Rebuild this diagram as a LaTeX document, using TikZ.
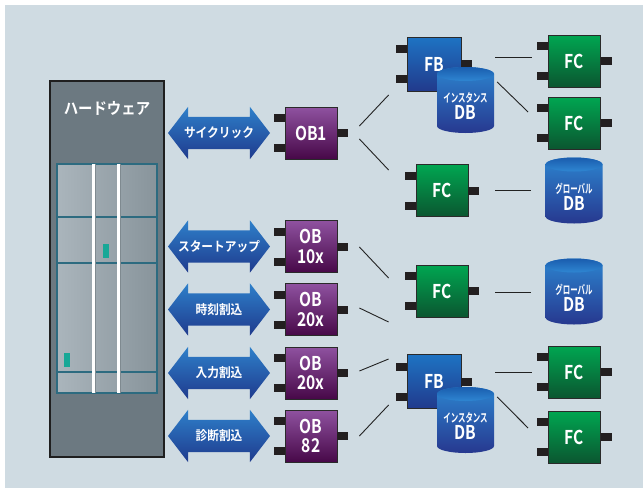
\documentclass[tikz,border=0pt]{standalone}
\usepackage{fontspec}
\usetikzlibrary{shapes.arrows,calc}

\newfontfamily\labelfont{Noto Sans CJK JP Bold}[FakeStretch=0.9]
\newfontfamily\blockfont{Noto Sans CJK JP Bold}[FakeStretch=0.82]
\newfontfamily\tinyfont{Noto Sans CJK JP Bold}[FakeStretch=0.62]

\definecolor{cBg}{HTML}{CFDBE2}
\definecolor{cHwFill}{HTML}{6C7981}
\definecolor{cHwLine}{HTML}{1F1F1F}
\definecolor{cPanelL}{HTML}{AAB5BC}
\definecolor{cPanelR}{HTML}{88949B}
\definecolor{cPanelLine}{HTML}{2D6B80}
\definecolor{cRail}{HTML}{7F8A90}
\definecolor{cLed}{HTML}{18A897}
\definecolor{cArrTop}{HTML}{2E80CA}
\definecolor{cArrBot}{HTML}{1F3A8D}
\definecolor{cObTop}{HTML}{8F52A0}
\definecolor{cObBot}{HTML}{470848}
\definecolor{cFbTop}{HTML}{1E73C3}
\definecolor{cFbBot}{HTML}{213A8C}
\definecolor{cFcTop}{HTML}{00A651}
\definecolor{cFcBot}{HTML}{0B5630}
\definecolor{cDbTop}{HTML}{2C84CF}
\definecolor{cDbBot}{HTML}{27388F}
\definecolor{cCapTop}{HTML}{1A5DAE}
\definecolor{cCapBot}{HTML}{2F86D2}
\definecolor{cPin}{HTML}{231F20}
\definecolor{cEdge}{HTML}{2A2A2A}
\definecolor{cLink}{HTML}{222222}

\tikzset{
  hwbox/.style={draw=cHwLine, line width=2.5pt, fill=cHwFill, minimum width=114pt, minimum height=376pt, inner sep=0pt},
  hwtitle/.style={text=white, inner sep=0pt, font=\labelfont\fontsize{16}{16}\selectfont},
  panel/.style={draw=cPanelLine, line width=1.4pt},
  event/.style={double arrow, double arrow head extend=10pt, double arrow tip angle=105, minimum height=102pt, text height=16pt, text depth=16pt, inner sep=0pt, top color=cArrTop, bottom color=cArrBot, label={[eventtext]center:#1}},
  eventtext/.style={text=white, font=\labelfont\fontsize{13}{13}\selectfont},
  block/.style={draw=cEdge, line width=0.8pt, minimum width=52pt, minimum height=52pt, inner sep=0pt, text=white, align=center, font=\blockfont\fontsize{19}{19.5}\selectfont},
  ob/.style={block, top color=cObTop, bottom color=cObBot},
  fb/.style={block, minimum width=54pt, minimum height=54pt, top color=cFbTop, bottom color=cFbBot},
  fc/.style={block, top color=cFcTop, bottom color=cFcBot},
  db/.style={minimum width=57pt, minimum height=66pt, inner sep=0pt, label={[dbtext]center:#1}},
  dbtext/.style={text=white, align=center, yshift=-6pt, font=\blockfont\fontsize{19}{17}\selectfont},
  pinbox/.style={fill=cPin},
  link/.style={draw=cLink, line width=0.9pt},
}

\newcommand\blockpins[1]{%
  \fill[pinbox] ([shift={(-11,-19)}]#1.west) rectangle ([shift={(0,-11)}]#1.west);
  \fill[pinbox] ([shift={(-11,11)}]#1.west) rectangle ([shift={(0,19)}]#1.west);
  \fill[pinbox] ([shift={(0,-4)}]#1.east) rectangle ([shift={(11,4)}]#1.east);}
\newcommand\dbbody[2]{%
  \begin{scope}[shift={(#1,#2)}]
    \shade[top color=cDbTop, bottom color=cDbBot] (-28.5,-26) -- (-28.5,26)
      arc[start angle=180, end angle=0, x radius=28.5, y radius=7] -- (28.5,-26)
      arc[start angle=0, end angle=-180, x radius=28.5, y radius=7] -- cycle;
    \shade[top color=cCapTop, bottom color=cCapBot] (0,-26) ellipse[x radius=28.5, y radius=7];
  \end{scope}}
\newcommand\smalltext[1]{{\tinyfont\fontsize{12}{12}\selectfont #1}}

\begin{document}
\begin{tikzpicture}[x=1pt,y=-1pt]
\useasboundingbox (0,0) rectangle (643,490);
\fill[white] (0,0) rectangle (643,490);
\fill[cBg] (5,5) rectangle (643,488);

\node[hwbox] (hw) at (107,269) {};
\node[hwtitle] (hwt) at (107,108) {ハードウェア};
\shade[left color=cPanelL, right color=cPanelR] (57,164) rectangle (157,393);
\draw[panel] (57,164) rectangle (157,393);
\foreach \y in {217,263,372} \draw[panel] (57,\y) -- (157,\y);
\foreach \x in {92,117} {
  \fill[white] (\x,164) rectangle ++(2.6,229);
  \fill[cRail] (\x+2.6,164) rectangle ++(1.2,229);
}
\fill[cLed] (103,244) rectangle (109,258);
\fill[cLed] (64,353) rectangle (70,367);

\node[event=サイクリック] (cyclic) at (219,133) {};
\node[event=スタートアップ] (startup) at (219,246.5) {};
\node[event=時刻割込] (tod) at (219,309.5) {};
\node[event=入力割込] (hwint) at (219,373) {};
\node[event=診断割込] (diag) at (219,436) {};

\node[ob] (ob1) at (311,133) {OB1};
\node[ob] (obst) at (311,246.5) {OB\\10x};
\node[ob] (obtod) at (311,309.5) {OB\\20x};
\node[ob] (obint) at (311,373) {OB\\20x};
\node[ob] (obdiag) at (311,436) {OB\\82};
\foreach \n in {ob1,obst,obtod,obint,obdiag} \blockpins{\n};

\node[fb] (fb1) at (434,64) {FB};
\blockpins{fb1}
\dbbody{465.5}{100}
\node[db={\smalltext{インスタンス}\\DB}] (idb1) at (465.5,100) {};
\node[fb] (fb2) at (434,381.5) {FB};
\blockpins{fb2}
\dbbody{465.5}{420}
\node[db={\smalltext{インスタンス}\\DB}] (idb2) at (465.5,420) {};

\node[fc] (fc1) at (574.5,61) {FC};
\node[fc] (fc2) at (574.5,123) {FC};
\node[fc] (fc3) at (442,190.5) {FC};
\node[fc] (fc4) at (442,291) {FC};
\node[fc] (fc5) at (574.5,372) {FC};
\node[fc] (fc6) at (574.5,437) {FC};
\foreach \n in {fc1,fc2,fc3,fc4,fc5,fc6} \blockpins{\n};

\dbbody{574}{190.5}
\node[db={\smalltext{グローバル}\\DB}] (gdb1) at (574,190.5) {};
\dbbody{574}{291.5}
\node[db={\smalltext{グローバル}\\DB}] (gdb2) at (574,291.5) {};

\draw[link] ([shift={(22,-7)}]ob1.east) -- ([shift={(-18,31)}]fb1.west);
\draw[link] ([shift={(22,6)}]ob1.east) -- ([shift={(-27,-20.5)}]fc3.west);
\draw[link] ([shift={(34,-7)}]fb1.east) -- ([shift={(-16,-4)}]fc1.west);
\draw[link] ([shift={(3,-18)}]idb1.east) -- ([shift={(-20,-11)}]fc2.west);
\draw[link] ([shift={(27,0)}]fc3.east) -- ([shift={(-14,0)}]gdb1.west);
\draw[link] ([shift={(22,0.5)}]obst.east) -- ([shift={(-27,-13)}]fc4.west);
\draw[link] ([shift={(22,-1.5)}]obtod.east) -- ([shift={(-27,31)}]fc4.west);
\draw[link] ([shift={(27,1)}]fc4.east) -- ([shift={(-14,0.5)}]gdb2.west);
\draw[link] ([shift={(22,-2)}]obint.east) -- ([shift={(-18,-22.5)}]fb2.west);
\draw[link] ([shift={(22,0)}]obdiag.east) -- ([shift={(-18,23.5)}]fb2.west);
\draw[link] ([shift={(34,-9.5)}]fb2.east) -- ([shift={(-16,0)}]fc5.west);
\draw[link] ([shift={(3,-23)}]idb2.east) -- ([shift={(-20,-9)}]fc6.west);
\end{tikzpicture}
\end{document}
